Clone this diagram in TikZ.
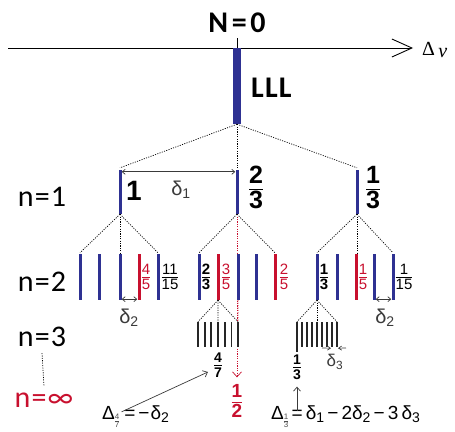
\documentclass[tikz,border=0pt]{standalone}
\usepackage{fontspec}
\setmainfont{Liberation Sans}
\newfontfamily\calfont[LetterSpace=4]{Carlito}
\newfontfamily\widefont[LetterSpace=12]{Carlito}
\newfontfamily\serfont{Liberation Serif}
\usetikzlibrary{arrows.meta, positioning}
\definecolor{c1}{HTML}{2E3192}
\definecolor{c2}{HTML}{C8102E}
\definecolor{c3}{HTML}{3A3A3A}
\newcommand{\fr}[2]{\begin{tabular}{@{}c@{}}#1\\[-2pt]\noalign{\hrule height 0.7pt\vskip 1.5pt}#2\end{tabular}}
\newcommand{\bfr}[2]{{\bfseries\begin{tabular}{@{}c@{}}#1\\[-2pt]\noalign{\hrule height 1.4pt\vskip 1.5pt}#2\end{tabular}}}
\newcommand{\fsz}[1]{\fontsize{#1}{#1}\selectfont}
\newcommand{\sub}[1]{\raisebox{-3pt}{\fsz{14}#1}}
\newcommand{\tinyfr}[2]{\raisebox{-4pt}{\fsz{8}\color{black!70}\begin{tabular}{@{}c@{}}#1\\[-1pt]\noalign{\hrule height 0.4pt\vskip 0.8pt}#2\end{tabular}}}

\begin{document}
\begin{tikzpicture}[x=1pt, y=-1pt,
    every node/.style={inner sep=0pt},
    bar/.style={rectangle, fill=c1, minimum width=3pt, minimum height=46pt},
    rbar/.style={bar, fill=c2},
    tk/.style={rectangle, fill=black!85, minimum width=1.7pt, minimum height=25pt},
    dot/.style={line width=0.7pt, dash pattern=on 1.1pt off 1.3pt},
    gap/.style={{Straight Barb[length=3pt,width=5pt]}-{Straight Barb[length=3pt,width=5pt]},
                line width=0.7pt, color=c3},
    ptr/.style={-{Straight Barb[length=4pt,width=7pt]}, line width=0.7pt, color=c3},
    lvl/.style={font=\calfont\fsz{30}},
    big/.style={font=\widefont\bfseries\fsz{30}},
    fl/.style={font=\fsz{15}},
    dl/.style={font=\fsz{20}, text=c3},
]
\useasboundingbox (0,0) rectangle (455,431);

% ================================================================ axis
\coordinate (ax0) at (8,48);
\coordinate (ax1) at (413,48);
\draw[-{Straight Barb[length=20pt,width=18pt]}, line width=0.9pt] (ax0) -- (ax1);
\node[anchor=base west, font=\serfont\fsz{20}] (dv) at (422,55) {Δ\raisebox{-2pt}{\,\itshape ν}};
\node[big] (top) at (237,23) {N=0};
\coordinate (tic) at (237,38);
\node[bar, minimum width=8pt, minimum height=76pt] (lll) at (237,86) {};
\draw[line width=0.7pt] (tic) -- (lll.north);
\node[font=\calfont\bfseries\fsz{30}, anchor=west] (lab) at (251,88) {LLL};

% ================================================================ n=1
\node[bar, minimum height=44pt] (a) at (120,192) {};
\node[bar, minimum height=44pt] (b) at (237,192) {};
\node[bar, minimum height=44pt] (c) at (357,192) {};
\foreach \n in {a,b,c}{ \draw[dot] (lll.south) -- ([yshift=2pt]\n.north); }
\node[font=\bfseries\fsz{28}] (fa) at (134,191) {1};
\node[font=\fsz{25}] (fb) at (256,191) {\bfr{2}{3}};
\node[font=\fsz{25}] (fc) at (373,191) {\bfr{1}{3}};
\draw[gap] ([yshift=-2pt]a.north east) -- ([yshift=-2pt]b.north west);
\node[dl] (d1) at (181,190) {δ\textsubscript{1}};

% the way down to 1/2
\node[font=\fsz{19}, text=c2] (h) at (237,404) {\bfr{1}{2}};
\draw[dot, c2, -{Straight Barb[length=5pt,width=9pt]}] (b.south) -- ([yshift=7pt]h.north);

% ================================================================ n=2
\foreach \x/\s/\n in {80/bar/u1, 99/bar/u2, 120/bar/u3, 139/rbar/u4, 158/bar/u5,
                      199/bar/v1, 218/rbar/v2, 238/bar/v3, 256/bar/v4, 275/rbar/v5,
                      317/bar/w1, 337/bar/w2, 356/rbar/w3, 374/bar/w4, 393/bar/w5}{
  \node[\s] (\n) at (\x,277) {};
}
\foreach \n in {u1,u3,u5}{ \draw[dot] (a.south) -- ([yshift=1pt]\n.north); }
\foreach \n in {v1,v5}{ \draw[dot] (b.south) -- ([yshift=1pt]\n.north); }
\foreach \n in {w1,w5}{ \draw[dot] (c.south) -- ([yshift=1pt]\n.north); }
\draw[dot] (c.south) -- ([yshift=1pt]c.south |- w3.north);

\node[fl, text=c2] (f45) at (146,279) {\fr{4}{5}};
\node[fl] (f1115) at (170,279) {\fr{11}{15}};
\node[fl] (f23) at (206,279) {\bfr{2}{3}};
\node[fl, text=c2] (f35) at (226,279) {\fr{3}{5}};
\node[fl, text=c2] (f25) at (284,279) {\fr{2}{5}};
\node[fl] (f13) at (324,279) {\bfr{1}{3}};
\node[fl, text=c2] (f15) at (363,279) {\fr{1}{5}};
\node[fl] (f115) at (404,279) {\fr{1}{15}};

\draw[gap] ([yshift=1pt]u3.south east) -- ([yshift=1pt]u4.south west);
\node[dl] (d2a) at (129,318) {δ\textsubscript{2}};
\draw[gap] ([yshift=1pt]w4.south east) -- ([yshift=1pt]w5.south west);
\node[dl] (d2b) at (385,318) {δ\textsubscript{2}};

% ================================================================ n=3
\foreach \k in {0,...,6}{ \node[tk] (p\k) at (198+6.67*\k,334.5) {}; }
\foreach \k in {0,...,8}{ \node[tk] (q\k) at (297+5*\k,334.5) {}; }
\node[tk, minimum height=30pt] (q0) at (297,337) {};
\foreach \n in {p0,p3,p6}{ \draw[dot] (v2.south) -- (\n.north); }
\foreach \n in {q0,q4,q8}{ \draw[dot] (w1.south) -- (\n |- q1.north); }
\draw[dot, c2] (v3.south) -- (p6.north);

\node[font=\fsz{14}] (f47) at (218,367) {\bfr{4}{7}};
\node[font=\fsz{14}] (g13) at (297,369) {\bfr{1}{3}};
\coordinate (e1) at (322,348);
\coordinate (e2) at (346,348);
\draw[ptr, -{Straight Barb[length=3pt,width=4pt]}] (e1) -- ([xshift=-1pt,yshift=-1pt]q7.south);
\draw[ptr, -{Straight Barb[length=3pt,width=4pt]}] (e2) -- ([xshift=1pt,yshift=-1pt]q8.south);
\node[dl, font=\fsz{17}] (d3) at (335,362) {δ\textsubscript{3}};

% ================================================================ what it comes to
\node[font=\fsz{19}, anchor=west] (k47) at (102,418)
    {Δ\tinyfr{4}{7}\hspace{5pt}=\hspace{3pt}−\hspace{1pt}δ\sub{2}};
\draw[ptr] ([xshift=-14pt,yshift=-6pt]k47.north) -- ([xshift=-6pt,yshift=-5pt]f47.west);
\node[font=\fsz{19}, anchor=west] (k13) at (271,418)
    {Δ\tinyfr{1}{3}\,=\,δ\sub{1}\,−\,2δ\sub{2}\,−\,3\,δ\sub{3}};
\draw[ptr] ([yshift=-5pt]g13.south |- k13.north) -- ([yshift=-3pt]g13.south);

% ================================================================ levels
\node[lvl] (n1) at (42,197) {n=1};
\node[lvl] (n2) at (42,282) {n=2};
\node[lvl] (n3) at (42,337) {n=3};
\node[lvl, text=c2] (ni) at (44,400) {n=∞};
\draw[dot] ([yshift=-6pt]n3.south) -- ([yshift=6pt]ni.north);
\end{tikzpicture}
\end{document}
